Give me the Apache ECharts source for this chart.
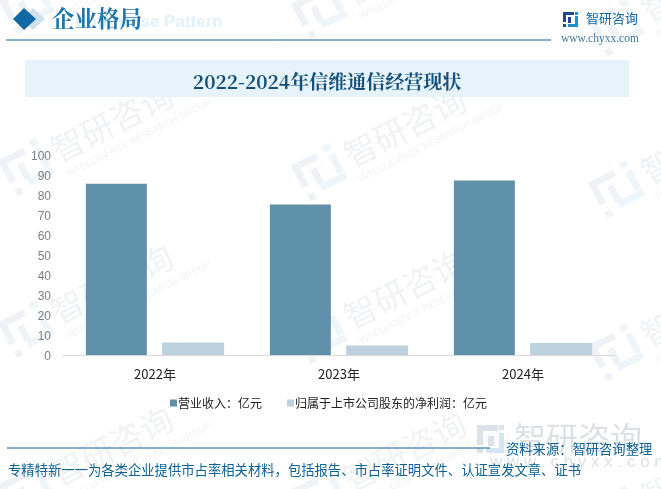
<!DOCTYPE html>
<html>
<head>
<meta charset="utf-8">
<style>html,body{margin:0;padding:0;background:#fff}#main{width:661px;height:489px}</style>
<script src="https://cdn.jsdelivr.net/npm/echarts@6/dist/echarts.min.js"></script>
</head>
<body>
<div id="main"></div>
<script>
var categories = ['2022年', '2023年', '2024年'];
var revenue = [85.6, 75.2, 87.2];
var netProfit = [6.2, 4.7, 6.0];
var yTicks = [0, 100];
var seriesNames = ['营业收入：亿元', '归属于上市公司股东的净利润：亿元'];

var myChart = echarts.init(document.getElementById('main'));
var CJK = '"Noto Sans CJK SC", sans-serif';
var SERIF = '"Noto Serif CJK SC", "Liberation Serif", "Noto Sans CJK SC", serif';

// 水印
var GREY = '#eff2f6', BLUE = '#eef6fb', WORD = '#f1f2f4';
var marks = [];
var spots = [[27, 5], [27, 167], [27, 329], [27, 491], [320, 10], [320, 172], [320, 334], [320, 496],
    [617, 27], [617, 189], [617, 352], [617, 514]];
spots.forEach(function (p) {
    marks.push({
        type: 'group', x: p[0], y: p[1], rotation: 27 * Math.PI / 180, silent: true, children: [
            { type: 'rect', shape: { x: -23, y: -19, width: 28, height: 7 }, style: { fill: GREY } },
            { type: 'rect', shape: { x: -23, y: -19, width: 7, height: 26 }, style: { fill: GREY } },
            { type: 'rect', shape: { x: -8, y: -6, width: 7, height: 17 }, style: { fill: GREY } },
            { type: 'rect', shape: { x: -22, y: 15, width: 7, height: 7 }, style: { fill: GREY } },
            { type: 'rect', shape: { x: 13, y: -22, width: 8, height: 7 }, style: { fill: BLUE } },
            { type: 'rect', shape: { x: 15, y: -11, width: 7, height: 21 }, style: { fill: BLUE } },
            { type: 'rect', shape: { x: -6, y: 11, width: 28, height: 7 }, style: { fill: BLUE } },
            { type: 'text', x: 30, y: -18, style: { text: '智研咨询', font: '33px ' + CJK, fill: WORD } },
            { type: 'text', x: 32, y: 20, style: { text: 'INTELLIGENCE RESEARCH GROUP', font: '9.5px "Liberation Sans"', fill: WORD } }
        ]
    });
});

var header = [
    // 标题区
    { type: 'text', x: 149, y: 14, style: { text: 'Enterprise Pattern', font: 'bold 17px "Liberation Sans"', fill: '#e3f1fa', textAlign: 'center' } },
    { type: 'polygon', shape: { points: [[33, 8], [45, 19], [33, 30], [21, 19]] }, style: { fill: '#cfe1ec' } },
    { type: 'polygon', shape: { points: [[24, 8], [36, 19], [24, 30], [13, 19]] }, style: { fill: '#1069a5' } },
    { type: 'text', x: 52, y: 7, style: { text: '企业格局', font: 'bold 22.5px ' + SERIF, fill: '#1f78ad' } },
    { type: 'line', shape: { x1: 6, y1: 40, x2: 551, y2: 40 }, style: { stroke: '#0e6296', lineWidth: 1 } },
    { type: 'rect', shape: { x: 25, y: 60, width: 604, height: 37 }, style: { fill: '#e6f3fb' } },
    // logo
    { type: 'rect', shape: { x: 563, y: 12, width: 11, height: 3 }, style: { fill: '#23478c' } },
    { type: 'rect', shape: { x: 563, y: 12, width: 3, height: 10 }, style: { fill: '#23478c' } },
    { type: 'rect', shape: { x: 568, y: 17, width: 3, height: 6 }, style: { fill: '#23478c' } },
    { type: 'rect', shape: { x: 563, y: 24, width: 3, height: 3 }, style: { fill: '#23478c' } },
    { type: 'rect', shape: { x: 575, y: 12, width: 3, height: 3 }, style: { fill: '#1f8fcf' } },
    { type: 'rect', shape: { x: 575, y: 16, width: 3, height: 11 }, style: { fill: '#1f8fcf' } },
    { type: 'rect', shape: { x: 568, y: 24, width: 10, height: 3 }, style: { fill: '#1f8fcf' } },
    { type: 'text', x: 586, y: 12, style: { text: '智研咨询', font: '13px ' + CJK, fill: '#1069a5' } },
    { type: 'text', x: 561, y: 33, style: { text: 'www.chyxx.com', font: '11.5px "Liberation Serif"', fill: '#4a7a9c' } },
    // 底部
    { type: 'rect', shape: { x: 477, y: 425, width: 21, height: 6 }, style: { fill: '#dbe2ea' } },
    { type: 'rect', shape: { x: 477, y: 425, width: 6, height: 20 }, style: { fill: '#dbe2ea' } },
    { type: 'rect', shape: { x: 488, y: 436, width: 6, height: 10 }, style: { fill: '#dbe2ea' } },
    { type: 'rect', shape: { x: 477, y: 448, width: 6, height: 5 }, style: { fill: '#dbe2ea' } },
    { type: 'rect', shape: { x: 499, y: 425, width: 5, height: 5 }, style: { fill: '#d5e6f2' } },
    { type: 'rect', shape: { x: 499, y: 433, width: 5, height: 20 }, style: { fill: '#d5e6f2' } },
    { type: 'rect', shape: { x: 486, y: 448, width: 18, height: 5 }, style: { fill: '#d5e6f2' } },
    { type: 'text', x: 514, y: 422, style: { text: '智研咨询', font: '32px ' + CJK, fill: '#dde1e6' } },
    { type: 'text', x: 490, y: 454, style: { text: 'w w w . c h y x x . c o m', font: '17px "Liberation Sans"', fill: '#dde1e6' } },
    { type: 'line', shape: { x1: 7, y1: 448, x2: 490, y2: 448 }, style: { stroke: '#0e6296', lineWidth: 1 } },
    { type: 'text', x: 506, y: 442, style: { text: '资料来源：智研咨询整理', font: '13.3px ' + CJK, fill: '#0e6296' } },
    { type: 'text', x: 8, y: 463, style: { text: '专精特新一一为各类企业提供市占率相关材料，包括报告、市占率证明文件、认证宣发文章、证书', font: '13.33px ' + CJK, fill: '#0e6296' } }
];

var option = {
    animation: false,
    backgroundColor: '#fff',
    title: {
        text: '2022-2024年信维通信经营现状',
        left: 322,
        top: 67,
        textAlign: 'center',
        textStyle: { fontFamily: SERIF, fontSize: 19, fontWeight: 'bold', color: '#134f7a' }
    },
    legend: {
        left: 165,
        top: 392,
        itemWidth: 7,
        itemHeight: 7,
        itemGap: 25,
        icon: 'rect',
        data: seriesNames,
        textStyle: { fontFamily: CJK, fontSize: 12, color: '#222', padding: [0, 0, 0, -4] }
    },
    grid: { left: 63, right: 46, top: 155, bottom: 134 },
    xAxis: {
        type: 'category',
        data: categories,
        axisTick: { show: false },
        axisLine: { lineStyle: { color: '#d9d9d9' } },
        axisLabel: { fontFamily: CJK, fontSize: 13, color: '#222', margin: 13 }
    },
    yAxis: {
        type: 'value',
        min: yTicks[0],
        max: yTicks[1],
        interval: 10,
        splitLine: { show: false },
        axisLabel: { fontFamily: '"Liberation Sans"', fontSize: 12, color: '#7f7f7f', margin: 12, verticalAlign: 'top', lineHeight: 4 }
    },
    series: [
        { name: seriesNames[0], type: 'bar', data: revenue, barWidth: 61, barGap: '25%', itemStyle: { color: '#5f92aa' } },
        { name: seriesNames[1], type: 'bar', data: netProfit, barWidth: 62, itemStyle: { color: '#bdd2dc' } }
    ],
    graphic: { elements: marks.concat(header) }
};

myChart.setOption(option);
</script>
</body>
</html>
